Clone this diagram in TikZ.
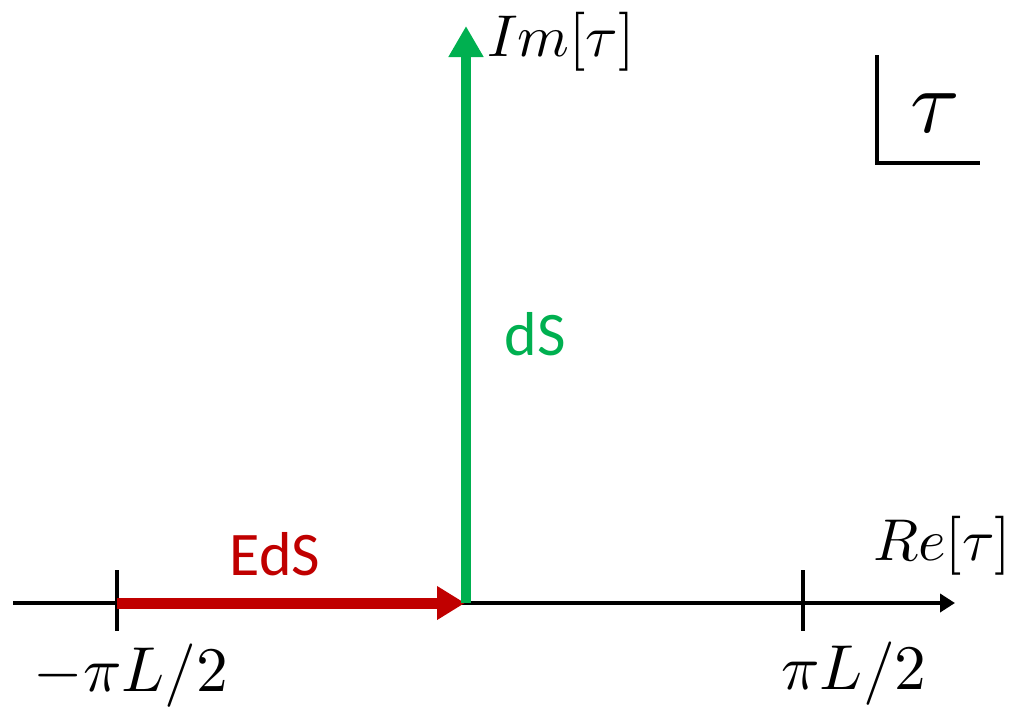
\documentclass[tikz,border=0pt]{standalone}
\usepackage{fontspec}
\newfontfamily\calib{Carlito}
\usetikzlibrary{arrows.meta}
\definecolor{edsred}{HTML}{C00000}
\definecolor{dsgreen}{HTML}{00B050}
\tikzset{
  axisline/.style={line width=4.6pt, draw=black, -{Triangle[length=15pt,width=18pt]}},
  tickline/.style={line width=4.6pt, draw=black},
  edsarrow/.style={line width=11pt, draw=edsred, -{Triangle[length=28pt,width=32pt,fill=edsred]}},
  dsarrow/.style={line width=10pt, draw=dsgreen, -{Triangle[length=31pt,width=33pt,fill=dsgreen]}},
  mathlabel/.style={inner sep=0pt, scale=5.9},
  ticklabel/.style={inner sep=0pt, scale=6.35},
  pathlabel/.style={inner sep=0pt, anchor=base, font=\calib\fontsize{62}{66}\selectfont},
}
\begin{document}
\begin{tikzpicture}[x=1pt,y=-1pt]
\useasboundingbox (0,0) rectangle (1012,712);
% axis coordinates
\coordinate (axL) at (13,603);
\coordinate (axR) at (955,603);
\coordinate (O) at (465,603);
\coordinate (Og) at (466,603);
\coordinate (top) at (466,26);
\coordinate (tL) at (117,603);
\coordinate (tR) at (803,603);
\coordinate (tLa) at (117,570);
\coordinate (tLb) at (117,631);
\coordinate (tRa) at (803,570);
\coordinate (tRb) at (803,631);
% real axis
\draw[axisline] (axL) -- (axR);
\draw[tickline] (tLa) -- (tLb);
\draw[tickline] (tRa) -- (tRb);
% EdS path
\draw[edsarrow] (tL) -- (O);
% dS path
\draw[dsarrow] (Og) -- (top);
% labels
\node[mathlabel] (im) at (561,42) {$Im[\tau]$};
\node[mathlabel] (re) at (942,546) {$Re[\tau]$};
\node[ticklabel] (lm) at (131,676) {$-\pi L/2$};
\node[ticklabel] (lp) at (854,674) {$\pi L/2$};
\node[pathlabel, text=dsgreen] (ds) at (535.5,355) {dS};
\node[pathlabel, text=edsred] (eds) at (275,575) {EdS};
% tau plane marker
\coordinate (boxTop) at (877,55);
\coordinate (boxEnd) at (980,163);
\draw[line width=4.6pt] (boxTop) |- (boxEnd);
\node[inner sep=0pt, scale=9.0] (tau) at (935,113) {$\tau$};
\end{tikzpicture}
\end{document}
